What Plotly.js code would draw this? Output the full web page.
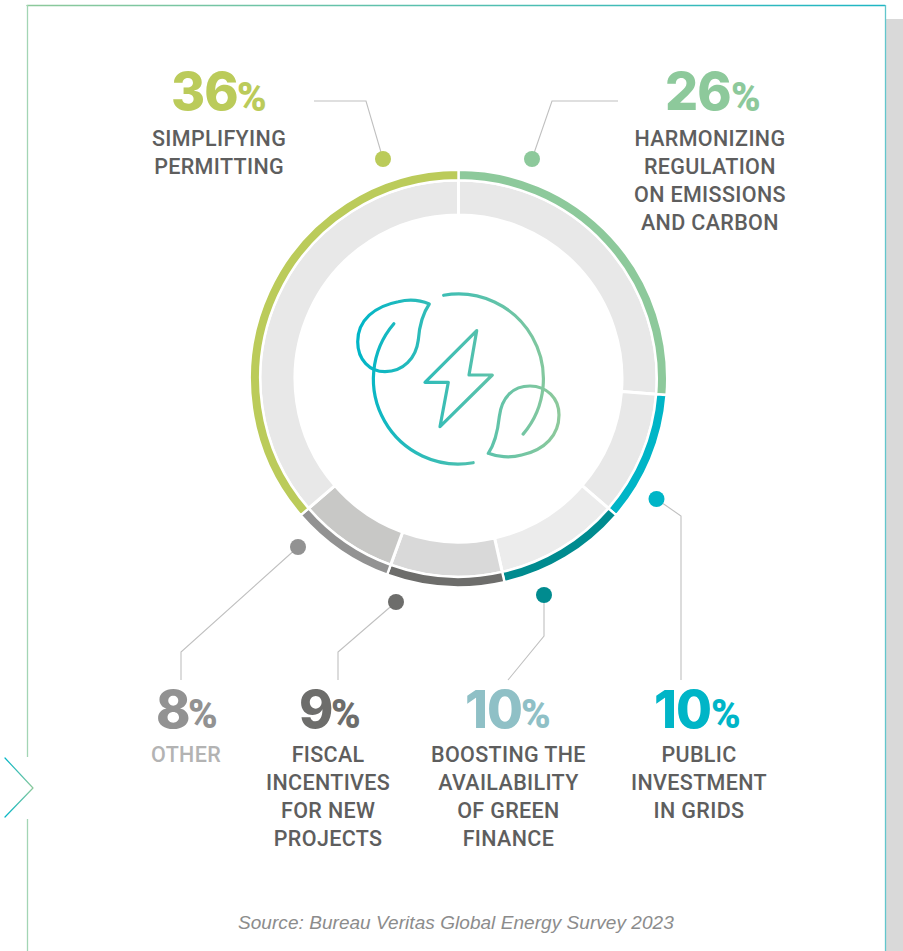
<!DOCTYPE html>
<html>
<head>
<meta charset="utf-8">
<title>Permitting and regulation survey</title>
<script src="https://cdn.plot.ly/plotly-3.0.1.min.js"></script>
<style>
  html, body { margin: 0; padding: 0; background: #fff; }
  #chart { width: 903px; height: 951px; }
  .annotation-text { letter-spacing: 0.35px; }
</style>
</head>
<body>
<div id="chart"></div>
<script>
// Survey shares, clockwise from twelve o'clock
const categories = ['HARMONIZING<br>REGULATION<br>ON EMISSIONS<br>AND CARBON', 'PUBLIC<br>INVESTMENT<br>IN GRIDS',
  'BOOSTING THE<br>AVAILABILITY<br>OF GREEN<br>FINANCE', 'FISCAL<br>INCENTIVES<br>FOR NEW<br>PROJECTS', 'OTHER',
  'SIMPLIFYING<br>PERMITTING'];
const shares = [26, 10, 10, 9, 8, 36];

const ringColors = ['#8DC99B', '#00B5C7', '#008B8F', '#6D6D6B', '#929292', '#BBCB5A'];
const trackColors = ['#E8E8E8', '#E8E8E8', '#ECECEC', '#D9D9D9', '#C8C8C6', '#E8E8E8'];
const figureColors = ['#8DC99B', '#00B5C7', '#8FC0C6', '#6D6D6B', '#929292', '#BBCB5A'];
const captionColors = ['#5E5E5E', '#5E5E5E', '#5E5E5E', '#5E5E5E', '#B3B3B3', '#5E5E5E'];

const W = 903, H = 951;
const px = x => x / W;
const py = y => 1 - y / H;
const CX = 458.5, CY = 378.5;

function ringDomain(r) {
  return { x: [px(CX - r), px(CX + r)], y: [py(CY + r), py(CY - r)] };
}
function ring(values, colors, radius, innerRadius, gap) {
  return {
    type: 'pie', values: values, sort: false, direction: 'clockwise', rotation: 0,
    hole: innerRadius / radius, domain: ringDomain(radius),
    marker: { colors: colors, line: { color: '#FFFFFF', width: gap } },
    textinfo: 'none', hoverinfo: 'none', showlegend: false
  };
}
const traces = [
  ring(shares, trackColors, 198.5, 163.5, 3),
  ring(shares, ringColors, 208.7, 198.3, 2.4)
];

const shapes = [];
function rect(x0, y0, x1, y1, color) {
  shapes.push({ type: 'rect', xref: 'paper', yref: 'paper', x0: px(x0), x1: px(x1), y0: py(y0), y1: py(y1),
    fillcolor: color, line: { width: 0 }, layer: 'below' });
}
function polyline(points, color, width) {
  const d = points.map((p, i) => (i ? 'L' : 'M') + px(p[0]) + ',' + py(p[1])).join(' ');
  shapes.push({ type: 'path', xref: 'paper', yref: 'paper', path: d, line: { color: color, width: width } });
  return shapes.length - 1;
}
// Curves are given in page pixels and mapped to the paper system
function curve(d, color, width) {
  const mapped = d.replace(/(-?[\d.]+),(-?[\d.]+)/g, (m, a, b) => px(+a) + ',' + py(+b));
  shapes.push({ type: 'path', xref: 'paper', yref: 'paper', path: mapped, line: { color: color, width: width } });
  return shapes.length - 1;
}
function dot(x, y, r, color) {
  shapes.push({ type: 'circle', xref: 'paper', yref: 'paper', x0: px(x - r), x1: px(x + r), y0: py(y + r), y1: py(y - r),
    fillcolor: color, line: { width: 0 } });
}
// Cubic approximation of a circular arc, angles clockwise from twelve o'clock
function arc(cx, cy, r, a0, a1) {
  const rad = d => (d - 90) * Math.PI / 180;
  const n = Math.ceil(Math.abs(a1 - a0) / 45);
  const step = (a1 - a0) / n;
  const k = 4 / 3 * Math.tan(step * Math.PI / 720) * r;
  let d = `M${cx + r * Math.cos(rad(a0))},${cy + r * Math.sin(rad(a0))}`;
  for (let i = 0; i < n; i++) {
    const s = rad(a0 + i * step), e = rad(a0 + (i + 1) * step);
    d += ` C${cx + r * Math.cos(s) - k * Math.sin(s)},${cy + r * Math.sin(s) + k * Math.cos(s)}`
      + ` ${cx + r * Math.cos(e) + k * Math.sin(e)},${cy + r * Math.sin(e) - k * Math.cos(e)}`
      + ` ${cx + r * Math.cos(e)},${cy + r * Math.sin(e)}`;
  }
  return d;
}

// Page furniture: panel edge, side strip, tab marker
rect(886, 19, 903, 951, '#D9D9D9');
const frameTop = polyline([[27, 5.5], [885, 5.5]], '#55BFB0', 1.3);
polyline([[27.5, 5], [27.5, 757]], '#A3D5B4', 1.3);
polyline([[27.5, 819], [27.5, 951]], '#A3D5B4', 1.3);
polyline([[885.5, 5], [885.5, 951]], '#62C6CC', 1.3);
const tabMark = polyline([[5, 758], [33, 788], [5, 817]], '#55BFB0', 1.2);

// Leader lines from the ring to each caption
const leaderColor = '#C0C0C0';
polyline([[618, 101], [552, 101], [532, 159]], leaderColor, 1.1);
polyline([[656.5, 499], [681, 516], [681, 680]], leaderColor, 1.1);
polyline([[544, 595], [544, 636], [508, 680]], leaderColor, 1.1);
polyline([[396, 602], [338, 652], [338, 680]], leaderColor, 1.1);
polyline([[298, 547], [181, 652], [181, 680]], leaderColor, 1.1);
polyline([[314, 101], [366, 101], [383, 159]], leaderColor, 1.1);
const dotPlaces = [[532, 159], [656.5, 499], [544, 595], [396, 602], [298, 547], [383, 159]];
dotPlaces.forEach((p, i) => dot(p[0], p[1], 8, ringColors[i]));

// Centre emblem: two arcs, two leaves and a bolt
const emblem = [
  curve(arc(458.4, 379, 85, -10, 130.4), '#55BFB0', 3.2),
  curve(arc(458.4, 379, 85, 310.6, 170), '#55BFB0', 3.2),
  curve('M429.3,304 C420,300 408.3,299.3 398.3,301.7 C375,306 357.7,320 357.7,341.7 C357.7,360 370,371.7 385,371.7 C403.3,371.7 416,358.3 418.3,340 C419.3,326.7 421.7,315 429.3,304 Z', '#55BFB0', 3.2),
  curve('M488.3,453.3 C496.7,456.7 510,458.3 521.7,455 C545,450 559,435 559,415 C559,398.3 546.7,386 530,386 C513.3,386 501.7,396.7 499.3,416.7 C497.7,431.7 495,443.3 488.3,453.3 Z', '#55BFB0', 3.2),
  curve('M476.7,330.7 L425,382.3 L448.3,382.3 L440,426.7 L492.3,375 L469,375 Z', '#55BFB0', 3.2)
];

// Figures and captions
const annotations = [];
function label(text, x, y, size, family, weight, color, anchorY) {
  annotations.push({ text: text, xref: 'paper', yref: 'paper', x: px(x), y: py(y), showarrow: false,
    xanchor: 'center', yanchor: anchorY || 'middle', align: 'center', borderpad: 0, borderwidth: 0,
    font: { size: size, family: family, weight: weight, color: color } });
}
const figureX = [698, 682.5, 493.5, 315, 173, 204];
const percentX = [745.5, 725.5, 535.5, 345.5, 202.5, 251.5];
const figureY = [92, 709, 709, 709, 709, 92];
const captionX = [710, 699, 509, 327.5, 186, 218.5];
const captionY = [138, 754, 754, 754, 754, 138];
shares.forEach((v, i) => {
  label(`<span style="letter-spacing:-1px">${v}</span>`, figureX[i], figureY[i], 52, 'Inter', 800, figureColors[i]);
  label('%', percentX[i], figureY[i] + 5, 40, 'Roboto', 900, figureColors[i]);
  label(categories[i], captionX[i], captionY[i] - 12, 21.5, 'Roboto', 500, captionColors[i], 'top');
});
label('<span style="letter-spacing:0.05px">Source: Bureau Veritas Global Energy Survey 2023</span>', 456, 922, 19,
  '"Liberation Sans", Arial, sans-serif', 400, '#8C8C8C');
annotations[annotations.length - 1].font.style = 'italic';

const layout = {
  width: W, height: H, margin: { l: 0, r: 0, t: 0, b: 0, pad: 0 },
  paper_bgcolor: '#FFFFFF', plot_bgcolor: '#FFFFFF', showlegend: false,
  shapes: shapes, annotations: annotations
};

Plotly.newPlot('chart', traces, layout, { displayModeBar: false, staticPlot: true }).then(gd => {
  // Gradient strokes are not a shape option, so they are attached to the drawn paths
  const svg = gd.querySelector('svg.main-svg');
  const NS = 'http://www.w3.org/2000/svg';
  function gradient(id, x1, x2, from, to) {
    const g = document.createElementNS(NS, 'linearGradient');
    g.setAttribute('id', id);
    g.setAttribute('gradientUnits', 'userSpaceOnUse');
    g.setAttribute('x1', x1); g.setAttribute('x2', x2);
    g.setAttribute('y1', 0); g.setAttribute('y2', 0);
    [[0, from], [1, to]].forEach(([o, c]) => {
      const s = document.createElementNS(NS, 'stop');
      s.setAttribute('offset', o); s.setAttribute('stop-color', c);
      g.appendChild(s);
    });
    svg.querySelector('defs').appendChild(g);
  }
  gradient('emblemStroke', 358, 559, '#00B5C7', '#8DC99B');
  gradient('topStroke', 27, 885, '#8DC99B', '#1FB6C4');
  gradient('tabStroke', 5, 33, '#00B5C7', '#8DC99B');
  function paint(index, id) {
    const el = gd.querySelector(`.shapelayer path[data-index="${index}"]`);
    if (el) { el.style.stroke = `url(#${id})`; el.style.strokeLinecap = 'round'; el.style.strokeLinejoin = 'round'; }
  }
  emblem.forEach(i => paint(i, 'emblemStroke'));
  paint(frameTop, 'topStroke');
  paint(tabMark, 'tabStroke');
});
</script>
</body>
</html>
